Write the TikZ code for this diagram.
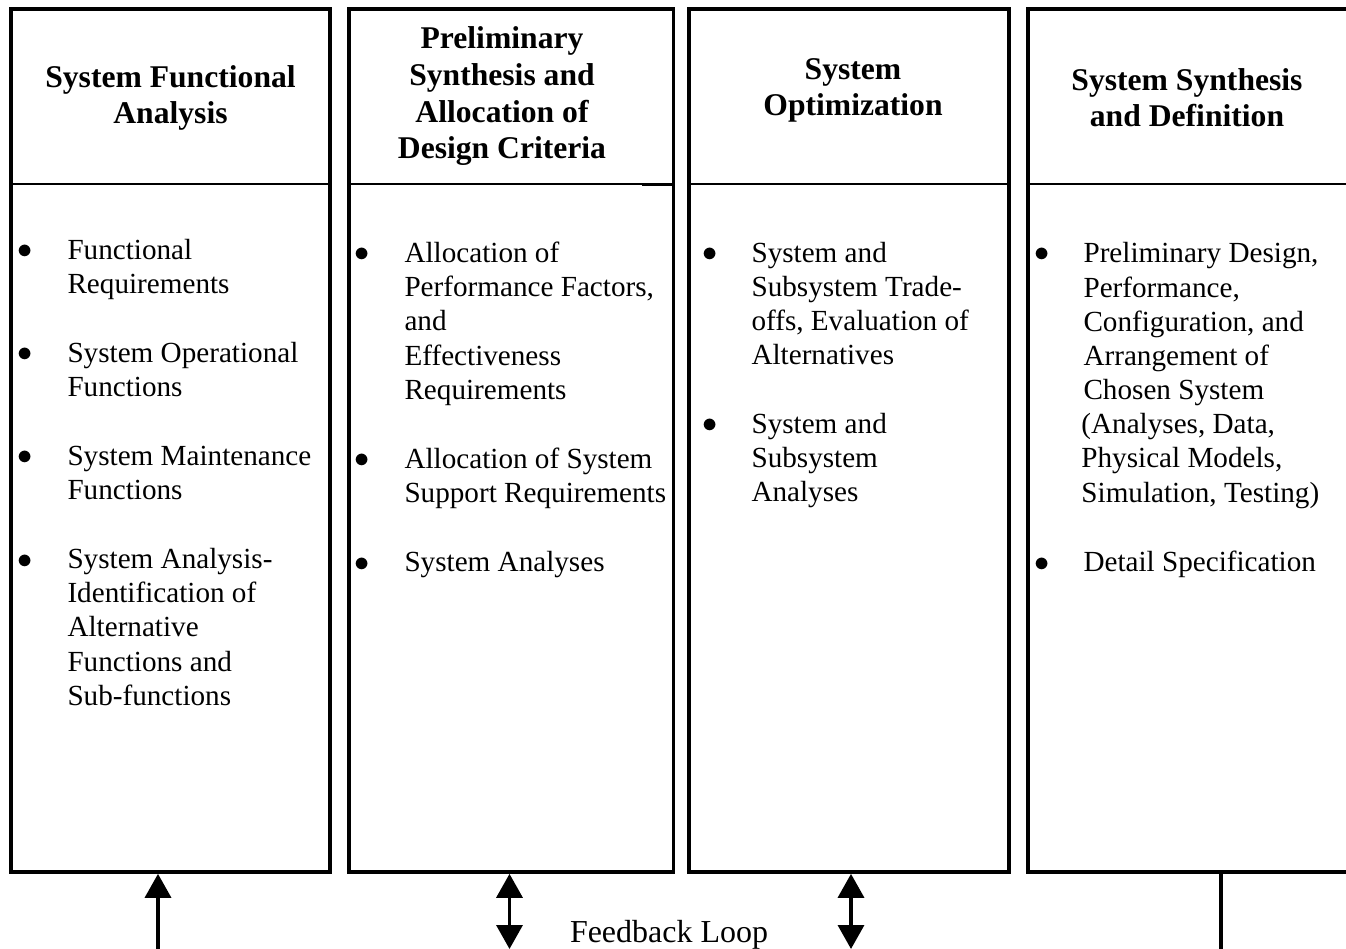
\documentclass[tikz,border=0pt]{standalone}
\usepackage{fontspec}
\setmainfont{Liberation Serif}
\usetikzlibrary{arrows.meta,positioning}

\begin{document}
\begin{tikzpicture}[x=0.02cm,y=-0.02cm,>={Triangle[length=0.48cm,width=0.52cm]},semithick]
  \tikzstyle{colbox}=[draw,line width=2.2pt,minimum height=17.26cm,inner sep=0pt]
  \tikzstyle{divider}=[line width=1.3pt]
  \tikzstyle{hdr}=[anchor=base,align=center,inner sep=0pt,font=\fontsize{18}{21}\selectfont\bfseries]
  \tikzstyle{itemtext}=[anchor=base west,align=left,inner sep=0pt,font=\fontsize{16.6}{19.45}\selectfont]
  \tikzstyle{bul}=[anchor=base,inner sep=0pt,font=\fontsize{16.6}{19.45}\selectfont]
  \tikzstyle{fblabel}=[anchor=base,inner sep=0pt,font=\fontsize{18.2}{21}\selectfont]
  \tikzstyle{fb}=[line width=2pt]

  \clip (0,0) rectangle (1346,949);

  % the four phases
  \node[colbox,minimum width=6.38cm] (sfa) at (170.5,440.5) {};
  \node[colbox,minimum width=6.49cm] (psa) at (511.25,440.5) {};
  \node[colbox,minimum width=6.39cm] (so)  at (848.85,440.5) {};
  \node[colbox,minimum width=7.04cm] (ssd) at (1204,440.5) {};

  \draw[divider] (sfa.west |- 0,184) -- (sfa.east |- 0,184);
  \draw[divider] (psa.west |- 0,184) -- (psa.east |- 0,184);
  \draw[line width=2.2pt] (642,184.5) -- (672,184.5);
  \draw[divider] (so.west |- 0,184) -- (so.east |- 0,184);
  \draw[divider] (ssd.west |- 0,184) -- (ssd.east |- 0,184);

  % headings (placed by the baseline of their last line)
  \node[hdr] (sfat) at (170.5,124) {System Functional\\Analysis};
  \node[hdr] (psat) at (502,159)   {Preliminary\\Synthesis and\\Allocation of\\Design Criteria};
  \node[hdr] (sot)  at (853,116)   {System\\Optimization};
  \node[hdr] (ssdt) at (1187,127)  {System Synthesis\\and Definition};

  % system functional analysis
  \node[bul] (sfa1b) at (25,259) {$\bullet$};
  \node[itemtext] (sfa1) at (67,293.3) {Functional\\Requirements};
  \node[bul] (sfa2b) at (25,362) {$\bullet$};
  \node[itemtext] (sfa2) at (67,396.3) {System Operational\\Functions};
  \node[bul] (sfa3b) at (25,465) {$\bullet$};
  \node[itemtext] (sfa3) at (67,499.3) {System Maintenance\\Functions};
  \node[bul] (sfa4b) at (25,568) {$\bullet$};
  \node[itemtext] (sfa4) at (67,705.2) {System Analysis-\\Identification of\\Alternative\\Functions and\\Sub-functions};

  % preliminary synthesis
  \node[bul] (psa1b) at (362,262) {$\bullet$};
  \node[itemtext] (psa1) at (404,399.2) {Allocation of\\Performance Factors,\\and\\Effectiveness\\Requirements};
  \node[bul] (psa2b) at (362,468) {$\bullet$};
  \node[itemtext] (psa2) at (404,502.3) {Allocation of System\\Support Requirements};
  \node[bul] (psa3b) at (362,571) {$\bullet$};
  \node[itemtext] (psa3) at (404,571) {System Analyses};

  % optimization
  \node[bul] (so1b) at (710,262) {$\bullet$};
  \node[itemtext] (so1) at (751,364.9) {System and\\Subsystem Trade-\\offs, Evaluation of\\Alternatives};
  \node[bul] (so2b) at (710,433) {$\bullet$};
  \node[itemtext] (so2) at (751,501.6) {System and\\Subsystem\\Analyses};

  % synthesis and definition
  \node[bul] (ssd1b) at (1042,262) {$\bullet$};
  \node[itemtext] (ssd1) at (1083,502.1) {Preliminary Design,\\Performance,\\Configuration, and\\Arrangement of\\Chosen System\\\hspace*{-1.2pt}(Analyses, Data,\\\hspace*{-1.2pt}Physical Models,\\\hspace*{-1.2pt}Simulation, Testing)};
  \node[bul] (ssd2b) at (1042,571) {$\bullet$};
  \node[itemtext] (ssd2) at (1083,571) {Detail Specification};

  % feedback loop
  \node[fblabel] (fbl) at (669,942) {Feedback Loop};
  \coordinate (fb1) at (158,949);
  \coordinate (fb2) at (509.5,949);
  \coordinate (fb3) at (851,949);
  \coordinate (fb4) at (1221,949);

  \draw[fb,->]  (fb1) -- (fb1 |- sfa.south);
  \draw[fb,<->] (fb2) -- (fb2 |- psa.south);
  \draw[fb,<->] (fb3) -- (fb3 |- so.south);
  \draw[fb]     (fb4) -- (fb4 |- ssd.south);
\end{tikzpicture}
\end{document}
